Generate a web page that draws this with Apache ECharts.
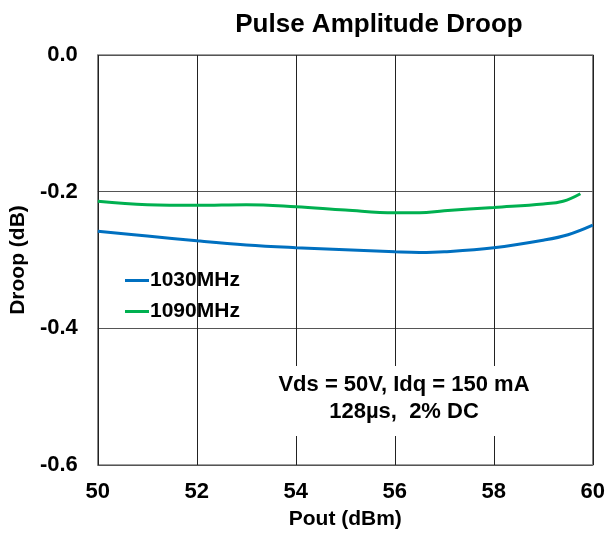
<!DOCTYPE html>
<html>
<head>
<meta charset="utf-8">
<script src="https://cdn.jsdelivr.net/npm/echarts@6/dist/echarts.min.js"></script>
<style>html,body{margin:0;padding:0;background:#fff;}#c{width:608px;height:535px;}</style>
</head>
<body>
<div id="c"></div>
<script>
const pout1030 = [50, 51, 52, 53, 54, 55, 56, 56.5, 57, 58, 59, 59.5, 60];
const droop1030 = [-0.258, -0.265, -0.272, -0.278, -0.282, -0.285, -0.288, -0.289, -0.288, -0.282, -0.271, -0.263, -0.249];
const pout1090 = [50, 51, 52, 53, 54, 55, 56, 56.5, 57, 58, 59, 59.4, 59.75];
const droop1090 = [-0.214, -0.219, -0.220, -0.219, -0.222, -0.227, -0.231, -0.231, -0.228, -0.223, -0.218, -0.214, -0.203];
const xTicks = [50, 52, 54, 56, 58, 60];
const yTicks = [-0.6, -0.4, -0.2, 0.0];
const seriesNames = ['1030MHz', '1090MHz'];
const seriesColors = ['#0070c0', '#00b050'];
const noteLines = ['Vds = 50V, Idq = 150 mA', '128\u00b5s,  2% DC'];

const font = '"Liberation Sans", Arial, sans-serif';
const chart = echarts.init(document.getElementById('c'));
const pair = (xs, ys) => xs.map((x, i) => [x, ys[i]]);

chart.setOption({
  animation: false,
  backgroundColor: '#fff',
  title: {
    text: 'Pulse Amplitude Droop',
    left: 374, top: 7, textAlign: 'center',
    textStyle: { fontFamily: font, fontWeight: 'bold', fontSize: 26, color: '#000' }
  },
  grid: { left: 95, right: 15, top: 55, bottom: 70, show: true, borderColor: '#808080', borderWidth: 1.5, backgroundColor: 'transparent' },
  legend: {
    orient: 'vertical', left: 120, top: 265, itemGap: 10,
    itemWidth: 24, itemHeight: 3,
    icon: 'rect',
    textStyle: { fontFamily: font, fontWeight: 'bold', fontSize: 21, color: '#000', padding: [0, 0, 0, -4] },
    data: seriesNames
  },
  xAxis: {
    type: 'value', min: 50, max: 60, interval: 2,
    name: 'Pout (dBm)', nameLocation: 'middle', nameGap: 44,
    nameTextStyle: { fontFamily: font, fontWeight: 'bold', fontSize: 21, color: '#000' },
    axisLine: { show: false }, axisTick: { show: false },
    axisLabel: { fontFamily: font, fontWeight: 'bold', fontSize: 22, color: '#000', margin: 16,
      formatter: v => xTicks.includes(v) ? String(v) : '' },
    splitLine: { show: true, lineStyle: { color: '#222', width: 1 } }
  },
  yAxis: {
    type: 'value', min: -0.6, max: 0, interval: 0.2,
    name: 'Droop (dB)', nameLocation: 'middle', nameGap: 62, nameRotate: 90,
    nameTextStyle: { fontFamily: font, fontWeight: 'bold', fontSize: 21, color: '#000' },
    axisLine: { show: false }, axisTick: { show: false },
    axisLabel: { fontFamily: font, fontWeight: 'bold', fontSize: 22, color: '#000', margin: 20,
      formatter: v => { const t = yTicks.find(k => Math.abs(k - v) < 1e-9); return t === undefined ? '' : t.toFixed(1); } },
    splitLine: { show: true, lineStyle: { color: '#555', width: 1 } }
  },
  series: [
    { name: seriesNames[0], type: 'line', data: pair(pout1030, droop1030), smooth: 0.4, showSymbol: false,
      lineStyle: { color: seriesColors[0], width: 3 }, itemStyle: { color: seriesColors[0] }, z: 5 },
    { name: seriesNames[1], type: 'line', data: pair(pout1090, droop1090), smooth: 0.4, showSymbol: false,
      lineStyle: { color: seriesColors[1], width: 3 }, itemStyle: { color: seriesColors[1] }, z: 5 }
  ],
  graphic: [
    { type: 'rect', left: 266, top: 366, z: 3, shape: { width: 276, height: 70 }, style: { fill: '#fff' } },
    { type: 'text', x: 404, y: 385, z: 4, style: { text: noteLines[0], align: 'center', verticalAlign: 'middle',
      font: 'bold 22px ' + font, fill: '#000' } },
    { type: 'text', x: 404, y: 412, z: 4, style: { text: noteLines[1], align: 'center', verticalAlign: 'middle',
      font: 'bold 22px ' + font, fill: '#000' } }
  ]
});
</script>
</body>
</html>
